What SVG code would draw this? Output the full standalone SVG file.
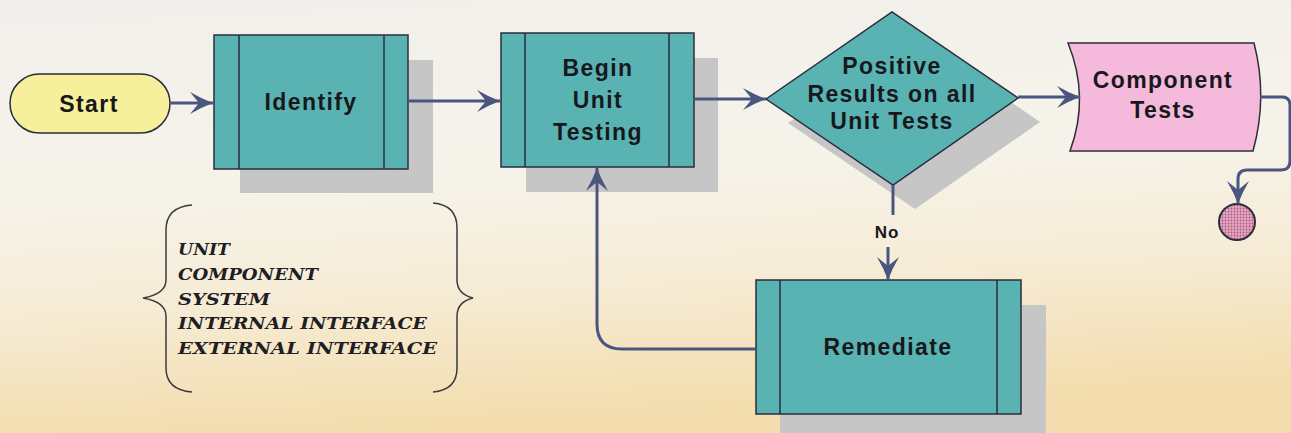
<svg xmlns="http://www.w3.org/2000/svg" width="1291" height="433" viewBox="0 0 1291 433">
<defs>
<linearGradient id="bg" x1="0" y1="0" x2="0.15" y2="1">
<stop offset="0" stop-color="#f1efeb"/>
<stop offset="0.45" stop-color="#f6f3ea"/>
<stop offset="0.7" stop-color="#f6ecd6"/>
<stop offset="1" stop-color="#f3ddae"/>
</linearGradient>
<pattern id="dots" width="3" height="3" patternUnits="userSpaceOnUse">
<rect width="3" height="3" fill="#e6a6c2"/>
<circle cx="1.5" cy="1.5" r="0.9" fill="#a85c80"/>
</pattern>
<marker id="ah" markerUnits="userSpaceOnUse" viewBox="0 0 24 24" refX="23" refY="12" markerWidth="24" markerHeight="24" orient="auto">
<path d="M0,1 Q12,8 23,12 Q12,16 0,23 L9,12 Z" fill="#4a5680"/>
</marker>
<style>
.shadow{fill:#c6c6c6}
.proc{fill:#5ab3b3;stroke:#2c2c3c;stroke-width:1.5}
.bar{stroke:#2c2c3c;stroke-width:1.5}
.lbl{font-family:"Liberation Sans",Arial,sans-serif;font-weight:bold;font-size:23px;fill:#18181c;text-anchor:middle;letter-spacing:1.4px}
.con{fill:none;stroke:#4a5680;stroke-width:3}
.list{font-family:"DejaVu Serif","Liberation Serif",serif;font-weight:bold;font-style:italic;font-size:16px;fill:#201d24}
.brace{fill:none;stroke:#3a3a40;stroke-width:1.5}
</style>
</defs>
<rect width="1291" height="433" fill="url(#bg)"/>

<g id="start">
<rect x="10" y="74" width="160" height="59" rx="29.5" fill="#f6f09c" stroke="#2c2c3c" stroke-width="1.5"/>
<text class="lbl" x="89" y="112">Start</text>
</g>

<g id="identify">
<rect class="shadow" x="240" y="60" width="193" height="133"/>
<rect class="proc" x="214" y="35" width="194" height="134"/>
<line class="bar" x1="239" y1="35" x2="239" y2="169"/>
<line class="bar" x1="384" y1="35" x2="384" y2="169"/>
<text class="lbl" x="311" y="110">Identify</text>
</g>

<g id="begin">
<rect class="shadow" x="526" y="58" width="192" height="134"/>
<rect class="proc" x="501" y="33" width="193" height="134"/>
<line class="bar" x1="525" y1="33" x2="525" y2="167"/>
<line class="bar" x1="669" y1="33" x2="669" y2="167"/>
<text class="lbl" x="598" y="76">Begin</text>
<text class="lbl" x="598" y="108">Unit</text>
<text class="lbl" x="598" y="140">Testing</text>
</g>

<g id="decision">
<polygon class="shadow" points="788,123 914,36 1040,122 915,209"/>
<polygon class="proc" points="766,99 892,12 1018,98 893,185"/>
<text class="lbl" x="892" y="74">Positive</text>
<text class="lbl" x="892" y="102">Results on all</text>
<text class="lbl" x="892" y="129">Unit Tests</text>
</g>

<g id="component">
<path d="M1068,43 L1254,43 Q1268,97 1253,151 L1070,151 Q1090,97 1068,43 Z" fill="#f5badb" stroke="#2c2c3c" stroke-width="1.5"/>
<text class="lbl" x="1163" y="88">Component</text>
<text class="lbl" x="1163" y="118">Tests</text>
</g>

<g id="end">
<circle cx="1237" cy="222" r="18" fill="url(#dots)" stroke="#2c2c3c" stroke-width="2"/>
</g>

<g id="remediate">
<rect class="shadow" x="780" y="305" width="266" height="128"/>
<rect class="proc" x="756" y="280" width="265" height="134"/>
<line class="bar" x1="780" y1="280" x2="780" y2="414"/>
<line class="bar" x1="997" y1="280" x2="997" y2="414"/>
<text class="lbl" x="888" y="355">Remediate</text>
</g>

<g id="types">
<path class="brace" d="M192,205 Q166,207 166,230 L166,280 Q166,294 143,298 Q166,302 166,316 L166,368 Q166,390 192,392"/>
<path class="brace" d="M433,203 Q457,205 457,228 L457,280 Q457,294 473,298 Q457,302 457,316 L457,368 Q457,390 433,392"/>
<text class="list" x="178" y="255" textLength="52" lengthAdjust="spacingAndGlyphs">UNIT</text>
<text class="list" x="178" y="280" textLength="140" lengthAdjust="spacingAndGlyphs">COMPONENT</text>
<text class="list" x="178" y="305" textLength="92" lengthAdjust="spacingAndGlyphs">SYSTEM</text>
<text class="list" x="178" y="329" textLength="249" lengthAdjust="spacingAndGlyphs">INTERNAL INTERFACE</text>
<text class="list" x="178" y="354" textLength="259" lengthAdjust="spacingAndGlyphs">EXTERNAL INTERFACE</text>
</g>

<g id="connectors">
<path class="con" d="M170,103 L213,103" marker-end="url(#ah)"/>
<path class="con" d="M408,101 L500,101" marker-end="url(#ah)"/>
<path class="con" d="M694,99 L766,99" marker-end="url(#ah)"/>
<path class="con" d="M1018,97 L1080,97" marker-end="url(#ah)"/>
<path class="con" d="M1260,97 L1282,97 Q1290,97 1290,105 L1290,161 Q1290,170 1281,170 L1247,170 Q1238,170 1238,179 L1238,204" marker-end="url(#ah)"/>
<path class="con" d="M893,185 L893,215"/>
<path class="con" d="M888,247 L888,280" marker-end="url(#ah)"/>
<path class="con" d="M756,349 L622,349 Q597,349 597,324 L597,168" marker-end="url(#ah)"/>
<text class="lbl" x="887" y="238" style="font-size:17px;letter-spacing:1px">No</text>
</g>
</svg>
